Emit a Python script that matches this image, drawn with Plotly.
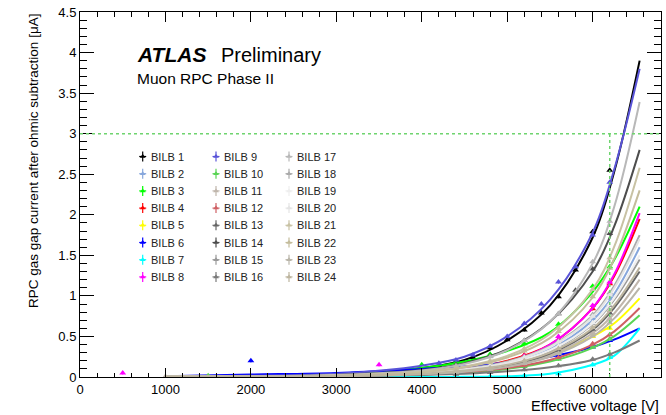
import plotly.graph_objects as go

# ---------------- data ----------------
series_names = ["BILB %d" % i for i in range(1, 25)]
series_colors = [
    "#000000", "#87a7dc", "#00ff00", "#ff0000", "#ffff00", "#0000ff", "#00ffff", "#ff00ff",
    "#5954d8", "#59d454", "#c0b6ac", "#cf6064", "#666666", "#4d4d4d", "#999999", "#7a7a7a",
    "#b8b8b8", "#aaaaaa", "#eeeeee", "#e4e4e4", "#c8c2a4", "#c4bc9c", "#b9b5a9", "#bdb59f",
]

fit_voltage = [1000, 2000, 3000, 4000, 4500, 5000, 5500, 6000, 6250, 6550]
fit_current = [
    [0.004, 0.012, 0.030, 0.110, 0.210, 0.450, 0.880, 1.720, 2.520, 3.900],  # 1
    [0.003, 0.006, 0.015, 0.045, 0.085, 0.170, 0.340, 0.700, 1.020, 1.600],  # 2
    [0.005, 0.015, 0.040, 0.110, 0.190, 0.320, 0.550, 1.050, 1.440, 2.100],  # 3
    [0.003, 0.007, 0.018, 0.050, 0.100, 0.200, 0.400, 0.850, 1.240, 1.950],  # 4
    [0.003, 0.008, 0.020, 0.050, 0.090, 0.150, 0.270, 0.500, 0.660, 0.970],  # 5
    [0.010, 0.030, 0.050, 0.100, 0.130, 0.180, 0.250, 0.370, 0.460, 0.600],  # 6
    [0.000, 0.000, 0.000, 0.000, 0.002, 0.010, 0.040, 0.150, 0.260, 0.600],  # 7
    [0.003, 0.006, 0.015, 0.045, 0.090, 0.180, 0.400, 0.850, 1.260, 2.020],  # 8
    [0.006, 0.016, 0.040, 0.140, 0.250, 0.500, 0.950, 1.780, 2.550, 3.800],  # 9
    [0.002, 0.005, 0.012, 0.033, 0.055, 0.100, 0.190, 0.360, 0.500, 0.760],  # 10
    [0.003, 0.006, 0.013, 0.038, 0.070, 0.135, 0.270, 0.540, 0.780, 1.200],  # 11
    [0.002, 0.005, 0.012, 0.035, 0.060, 0.110, 0.210, 0.400, 0.560, 0.850],  # 12
    [0.003, 0.006, 0.014, 0.040, 0.075, 0.145, 0.290, 0.580, 0.850, 1.300],  # 13
    [0.004, 0.010, 0.025, 0.085, 0.170, 0.340, 0.680, 1.300, 1.850, 2.800],  # 14
    [0.003, 0.006, 0.015, 0.045, 0.085, 0.160, 0.320, 0.650, 0.950, 1.450],  # 15
    [0.002, 0.005, 0.010, 0.025, 0.040, 0.070, 0.120, 0.210, 0.300, 0.450],  # 16
    [0.003, 0.010, 0.025, 0.080, 0.160, 0.330, 0.680, 1.400, 2.090, 3.390],  # 17
    [0.003, 0.007, 0.017, 0.050, 0.100, 0.190, 0.380, 0.760, 1.120, 1.750],  # 18
    [0.003, 0.006, 0.015, 0.045, 0.085, 0.165, 0.330, 0.660, 0.970, 1.500],  # 19
    [0.003, 0.007, 0.017, 0.050, 0.095, 0.180, 0.370, 0.740, 1.090, 1.700],  # 20
    [0.003, 0.008, 0.020, 0.065, 0.130, 0.260, 0.530, 1.080, 1.600, 2.580],  # 21
    [0.003, 0.008, 0.020, 0.060, 0.120, 0.240, 0.480, 0.980, 1.450, 2.300],  # 22
    [0.003, 0.005, 0.012, 0.035, 0.065, 0.125, 0.250, 0.500, 0.720, 1.100],  # 23
    [0.003, 0.006, 0.014, 0.040, 0.080, 0.150, 0.300, 0.600, 0.880, 1.350],  # 24
]

# measured points (common voltage steps) [V] and currents [uA]
point_voltage = [4400, 4800, 5200, 5600, 6000, 6200]
point_current = [
    [0.19, 0.36, 0.58, 0.99, 1.79, 2.55],   # 1
    [0.075, 0.13, 0.23, 0.40, 0.72, 0.97],  # 2
    [0.18, 0.28, 0.41, 0.65, 1.12, 1.36],   # 3
    [0.085, 0.15, 0.27, 0.46, 0.84, 1.15],  # 4
    [0.08, 0.12, 0.19, 0.31, 0.50, 0.60],   # 5
    [0.12, 0.15, 0.20, 0.26, 0.37, 0.45],   # 6
    [0.0, 0.005, 0.015, 0.04, 0.15, 0.24],  # 7
    [0.08, 0.14, 0.26, 0.50, 0.88, 1.17],   # 8
    [0.21, 0.38, 0.66, 1.17, 1.75, 2.40],   # 9
    [0.05, 0.08, 0.13, 0.22, 0.37, 0.47],   # 10
    [0.062, 0.10, 0.18, 0.31, 0.55, 0.72],  # 11
    [0.055, 0.085, 0.145, 0.24, 0.41, 0.52],  # 12
    [0.065, 0.11, 0.19, 0.33, 0.59, 0.79],  # 13
    [0.15, 0.26, 0.45, 0.78, 1.33, 1.77],   # 14
    [0.075, 0.12, 0.215, 0.37, 0.66, 0.88],  # 15
    [0.035, 0.055, 0.09, 0.14, 0.22, 0.28],  # 16
    [0.14, 0.25, 0.45, 0.78, 1.42, 1.92],   # 17
    [0.085, 0.14, 0.25, 0.44, 0.77, 1.04],  # 18
    [0.075, 0.125, 0.22, 0.38, 0.67, 0.90],  # 19
    [0.085, 0.135, 0.24, 0.43, 0.75, 1.01],  # 20
    [0.11, 0.20, 0.35, 0.60, 1.08, 1.47],   # 21
    [0.10, 0.18, 0.32, 0.56, 0.99, 1.34],   # 22
    [0.058, 0.095, 0.165, 0.29, 0.51, 0.67],  # 23
    [0.07, 0.115, 0.20, 0.35, 0.61, 0.82],  # 24
]

# additional measured points of individual chambers
extra_voltage = [
    [4200, 4600, 5000, 5400, 5800], [], [4000], [], [], [2000], [], [500, 3500],
    [4200, 4600, 5000, 5400, 5800], [1500], [1000], [], [], [5800], [], [], [], [], [], [], [], [], [], [],
]
extra_current = [
    [0.14, 0.24, 0.46, 0.79, 1.32], [], [0.15], [], [], [0.20], [], [0.05, 0.15],
    [0.17, 0.27, 0.50, 0.90, 1.36], [0.015], [0.005], [], [], [1.07], [], [], [], [], [], [], [], [], [], [],
]

current_error = 0.02
voltage_error = 15
working_current = 3.0      # uA reference line
working_voltage = 6200     # V reference line

x_ticks = [0, 1000, 2000, 3000, 4000, 5000, 6000]
y_ticks = [0, 0.5, 1, 1.5, 2, 2.5, 3, 3.5, 4, 4.5]

# ---------------- figure ----------------
FONT = "Liberation Sans, Arial, Helvetica, sans-serif"
W, H = 666, 415
ML, MR, MT, MB = 80, 5, 12, 38
PW, PH = W - ML - MR, H - MT - MB

fig = go.Figure()

for i in range(len(series_names)):
    col = series_colors[i]
    fig.add_trace(go.Scatter(
        x=fit_voltage, y=fit_current[i], mode="lines",
        line=dict(color=col, width=2, shape="spline", smoothing=1.0),
        showlegend=False, hoverinfo="skip"))
    px = point_voltage + extra_voltage[i]
    py = point_current[i] + extra_current[i]
    fig.add_trace(go.Scatter(
        x=px, y=py, mode="markers",
        marker=dict(symbol="triangle-up", size=6, color=col, line=dict(width=0)),
        error_y=dict(type="constant", value=current_error, color=col, thickness=1, width=0),
        error_x=dict(type="constant", value=voltage_error, color=col, thickness=1, width=0),
        showlegend=False, name=series_names[i]))

# reference dotted lines
fig.add_shape(type="line", xref="x", yref="y", x0=0, x1=6800, y0=working_current, y1=working_current,
              line=dict(color="#6fd46f", width=1.5, dash="dot"))
fig.add_shape(type="line", xref="x", yref="y", x0=working_voltage, x1=working_voltage, y0=0, y1=working_current,
              line=dict(color="#6fd46f", width=1.5, dash="dot"))

# manual 3-column legend (glyphs on an overlay [0,1] frame)
col_glyph_px = [142.7, 216.0, 289.0]
col_text_px = [149.0, 222.0, 295.0]
row0_px, row_step = 156.5, 17.2
annotations = []
for i, name in enumerate(series_names):
    c, r = divmod(i, 8)
    gy = (H - MB - (row0_px + r * row_step)) / PH
    gx = (col_glyph_px[c] - ML) / PW
    fig.add_trace(go.Scatter(
        x=[gx], y=[gy], xaxis="x2", yaxis="y2", mode="markers",
        marker=dict(symbol="triangle-up", size=5, color=series_colors[i]),
        error_y=dict(type="constant", value=5.0 / PH, color=series_colors[i], thickness=1.2, width=0),
        error_x=dict(type="constant", value=3.5 / PW, color=series_colors[i], thickness=1.2, width=0),
        showlegend=False, hoverinfo="skip"))
    annotations.append(dict(
        text=name, xref="paper", yref="paper", x=(col_text_px[c] - ML) / PW, y=gy,
        xanchor="left", yanchor="middle", showarrow=False,
        font=dict(family=FONT, size=11, color="#222222")))

annotations += [
    dict(text="<b><i>ATLAS</i></b>", xref="paper", yref="paper", x=(135 - ML) / PW, y=(H - MB - 55) / PH,
         xanchor="left", yanchor="middle", showarrow=False, font=dict(family=FONT, size=21, color="black")),
    dict(text="Preliminary", xref="paper", yref="paper", x=(219 - ML) / PW, y=(H - MB - 55) / PH,
         xanchor="left", yanchor="middle", showarrow=False, font=dict(family=FONT, size=20, color="black")),
    dict(text="Muon RPC Phase II", xref="paper", yref="paper", x=(135 - ML) / PW, y=(H - MB - 78) / PH,
         xanchor="left", yanchor="middle", showarrow=False, font=dict(family=FONT, size=15.5, color="black")),
    dict(text="Effective voltage [V]", xref="paper", yref="paper", x=1.0, y=(H - MB - 406) / PH,
         xanchor="right", yanchor="middle", showarrow=False, font=dict(family=FONT, size=14.5, color="black")),
    dict(text="RPC gas gap current after ohmic subtraction [\u03bcA]", xref="paper", yref="paper",
         x=(33 - ML) / PW, y=1.0, xanchor="center", yanchor="top", textangle=-90, showarrow=False,
         font=dict(family=FONT, size=13.5, color="black")),
]

axis_common = dict(showline=True, linecolor="black", linewidth=1, mirror="ticks", ticks="inside",
                   tickcolor="black", tickwidth=1, showgrid=False, zeroline=False,
                   tickfont=dict(family=FONT, size=13, color="black"))

fig.update_layout(
    width=W, height=H, margin=dict(l=ML, r=MR, t=MT, b=MB),
    paper_bgcolor="white", plot_bgcolor="white", showlegend=False,
    xaxis=dict(range=[0, 6800], tickvals=x_ticks, ticklen=9.5,
               minor=dict(ticks="inside", dtick=200, ticklen=4.5, tickcolor="black", tickwidth=1),
               **axis_common),
    yaxis=dict(range=[0, 4.5], tickvals=y_ticks, ticklen=14,
               minor=dict(ticks="inside", dtick=0.1, ticklen=7, tickcolor="black", tickwidth=1),
               **axis_common),
    xaxis2=dict(overlaying="x", range=[0, 1], visible=False),
    yaxis2=dict(overlaying="y", range=[0, 1], visible=False),
    annotations=annotations,
)

fig.write_html("out.html")
